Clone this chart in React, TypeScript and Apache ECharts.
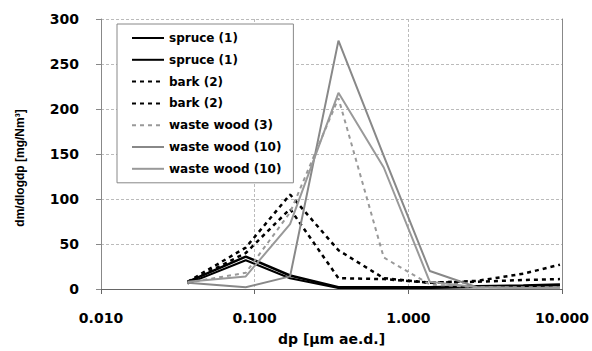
import React, { useEffect, useRef } from "react";
import * as echarts from "echarts";

// particle diameter midpoints (µm)
const dp = [0.0366, 0.0875, 0.17, 0.351, 0.692, 1.38, 2.8, 5.6, 9.7];

const spruceA = [8, 36, 15, 2, 2, 2, 3, 4, 5];
const spruceB = [6, 32, 12, 1, 1, 1, 2, 3, 4];
const barkA = [8, 46, 105, 43, 12, 7, 9, 17, 27];
const barkB = [7, 40, 89, 12, 11, 7, 8, 10, 11];
const waste3 = [7, 18, 85, 212, 35, 5, 2, 2, 2];
const waste10A = [7, 2, 14, 276, 148, 20, 2, 1, 1];
const waste10B = [8, 14, 72, 218, 135, 8, 2, 1, 1];

const seriesNames = [
  "spruce (1)#1",
  "spruce (1)#2",
  "bark (2)#1",
  "bark (2)#2",
  "waste wood (3)#1",
  "waste wood (10)#1",
  "waste wood (10)#2",
];

const yTicks = { min: 0, max: 300, interval: 50 };

const pair = (ys: number[]) => dp.map((x, i) => [x, ys[i]]);

export default function App() {
  const ref = useRef<HTMLDivElement>(null);
  useEffect(() => {
    if (!ref.current) return;
    const chart = echarts.init(ref.current, undefined, { renderer: "svg" });
    const mk = (name: string, data: number[], color: string, width: number, type: any) => ({
      name,
      type: "line",
      data: pair(data),
      symbol: "none",
      lineStyle: { color, width, type },
      itemStyle: { color },
      z: 3,
    });
    chart.setOption({
      animation: false,
      backgroundColor: "#fff",
      grid: { left: 101, right: 23, top: 19, bottom: 60 },
      legend: {
        orient: "vertical",
        left: 117,
        top: 24,
        padding: [8, 12, 8, 14],
        itemWidth: 32,
        itemHeight: 14,
        itemGap: 9.8,
        borderColor: "#888",
        borderWidth: 1,
        backgroundColor: "#fff",
        itemStyle: { opacity: 0 },
        textStyle: { fontFamily: "DejaVu Sans", fontWeight: "bold", fontSize: 12, color: "#000" },
        formatter: (n: string) => n.replace(/#\d$/, ""),
        data: seriesNames,
        selectedMode: false,
      },
      xAxis: {
        type: "log",
        logBase: 10,
        min: 0.01,
        max: 10,
        name: "dp [μm ae.d.]",
        nameLocation: "middle",
        nameGap: 43,
        nameTextStyle: { fontFamily: "DejaVu Sans", fontWeight: "bold", fontSize: 14, color: "#000" },
        axisLine: { lineStyle: { color: "#666", width: 1 } },
        axisTick: { show: true, length: 5, lineStyle: { color: "#666" } },
        minorTick: { show: false },
        axisLabel: {
          margin: 22,
          fontFamily: "DejaVu Sans",
          fontWeight: "bold",
          fontSize: 14,
          color: "#000",
          formatter: (v: number) => v.toFixed(3),
        },
        splitLine: { show: true, lineStyle: { color: "#bbb", type: [3, 2], width: 1 } },
      },
      yAxis: [
        {
          type: "value",
          min: yTicks.min,
          max: yTicks.max,
          interval: yTicks.interval,
          axisLine: { show: true, lineStyle: { color: "#888", width: 1 } },
          axisTick: { show: true, length: 5, lineStyle: { color: "#888" } },
          axisLabel: {
            margin: 22,
            fontFamily: "DejaVu Sans",
            fontWeight: "bold",
            fontSize: 14,
            color: "#000",
          },
          splitLine: { show: true, lineStyle: { color: "#bbb", type: [3, 2], width: 1 } },
        },
        {
          type: "value",
          position: "right",
          min: yTicks.min,
          max: yTicks.max,
          interval: yTicks.interval,
          axisLine: { show: true, lineStyle: { color: "#888", width: 1 } },
          axisTick: { show: false },
          axisLabel: { show: false },
          splitLine: { show: false },
        },
      ],
      graphic: [
        {
          type: "text",
          x: 20,
          y: 168,
          rotation: Math.PI / 2,
          style: {
            text: "dm/dlogdp [mg/Nm³]",
            font: "bold 12px 'Liberation Sans'",
            fill: "#000",
            textAlign: "center",
            textVerticalAlign: "middle",
          },
        },
      ],
      series: [
        mk(seriesNames[0], spruceA, "#000", 2.5, "solid"),
        mk(seriesNames[1], spruceB, "#000", 2, "solid"),
        mk(seriesNames[2], barkA, "#000", 2.5, [4, 4]),
        mk(seriesNames[3], barkB, "#000", 2.5, [4, 4]),
        mk(seriesNames[4], waste3, "#999", 2, [4, 4]),
        mk(seriesNames[5], waste10A, "#888", 2, "solid"),
        mk(seriesNames[6], waste10B, "#999", 2, "solid"),
      ],
    });
    return () => chart.dispose();
  }, []);
  return (
    <div
      ref={ref}
      style={{ position: "fixed", left: 0, top: 0, width: 592, height: 351, background: "#fff" }}
    />
  );
}
